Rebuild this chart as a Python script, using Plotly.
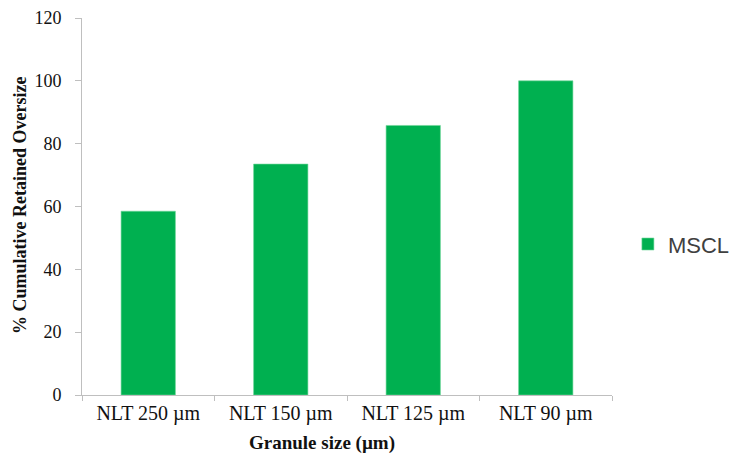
import plotly.graph_objects as go

categories = ["NLT 250 µm", "NLT 150 µm", "NLT 125 µm", "NLT 90 µm"]
mscl_values = [58.5, 73.5, 85.8, 100.0]
series_name = "MSCL"
y_tick_values = [0, 20, 40, 60, 80, 100, 120]
x_title = "Granule size (µm)"
y_title = "% Cumulative Retained Oversize"

serif = "Liberation Serif"
text_color = "#111111"

fig = go.Figure()
fig.add_trace(go.Bar(
    x=categories,
    y=mscl_values,
    name=series_name,
    marker=dict(color="#00B050", line=dict(color="#6fd69a", width=0.6)),
    showlegend=True,
))

# page body has an 8px default margin, so the figure is 8px smaller
fig.update_layout(
    width=729,
    height=446,
    margin=dict(l=74, r=125, t=10, b=59, autoexpand=False),
    paper_bgcolor="white",
    plot_bgcolor="white",
    bargap=0.59,
    showlegend=True,
    legend=dict(
        x=1.03, y=0.40, xanchor="left", yanchor="middle",
        font=dict(family="Liberation Sans", size=22, color="#404040"),
        bgcolor="rgba(0,0,0,0)",
    ),
    xaxis=dict(
        type="category", automargin=False,
        showline=True, linecolor="#bfbfbf", linewidth=1,
        ticks="outside", tickson="boundaries", ticklen=5, tickcolor="#bfbfbf",
        tickfont=dict(family=serif, size=20, color=text_color),
        showgrid=False, zeroline=False,
    ),
    yaxis=dict(
        range=[0, 120], automargin=False,
        tickvals=y_tick_values,
        showline=True, linecolor="#bfbfbf", linewidth=1,
        ticks="outside", ticklen=6, tickcolor="#bfbfbf",
        ticklabelstandoff=10,
        tickfont=dict(family=serif, size=18, color=text_color),
        showgrid=False, zeroline=False,
    ),
    annotations=[
        dict(text="<b>" + x_title + "</b>", xref="paper", yref="paper",
             x=0.453, y=-0.128, xanchor="center", yanchor="middle",
             showarrow=False, font=dict(family=serif, size=19, color=text_color)),
        dict(text="<b>" + y_title + "</b>", xref="paper", yref="paper",
             x=-0.117, y=0.504, xanchor="center", yanchor="middle", textangle=-90,
             showarrow=False, font=dict(family=serif, size=18, color=text_color)),
    ],
)

fig.write_html("out.html")
